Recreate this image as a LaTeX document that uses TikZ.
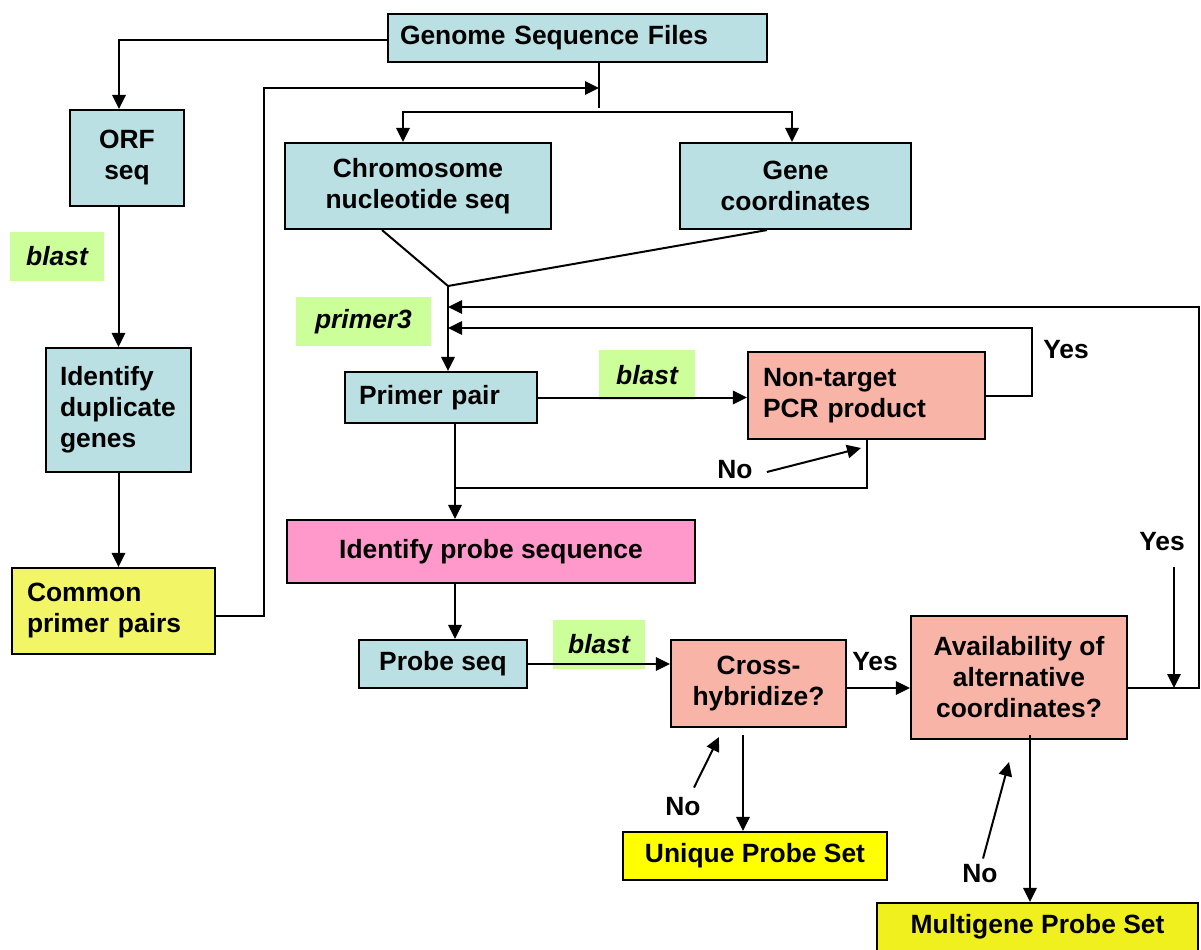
\documentclass[tikz,border=0pt]{standalone}
\usepackage{fontspec}
\setmainfont{Liberation Sans}
\usetikzlibrary{arrows.meta,calc}
\definecolor{cblue}{RGB}{186,224,227}
\definecolor{csalmon}{RGB}{248,180,166}
\definecolor{cpink}{RGB}{255,153,204}
\definecolor{cyel}{RGB}{242,245,102}
\definecolor{cyel2}{RGB}{255,255,0}
\definecolor{cyel3}{RGB}{240,240,30}
\definecolor{cgreen}{RGB}{204,255,153}
\begin{document}
\begin{tikzpicture}[x=0.75pt,y=-0.75pt,
  font=\fontsize{19.8pt}{23.25pt}\selectfont\bfseries,
  box/.style={draw=black,line width=1.6pt,inner sep=0pt,align=center},
  sz/.style 2 args={minimum width=#1*0.75pt,minimum height=#2*0.75pt},
  lbl/.style={fill=cgreen,inner sep=0pt,font=\fontsize{19.8pt}{23.25pt}\selectfont\bfseries\itshape},
  txt/.style={inner sep=0pt},
  arr/.style={line width=1.5pt,-{Triangle[length=10.5pt,width=10pt]}},
  ln/.style={line width=1.5pt}]
\useasboundingbox (0,0) rectangle (1201,949);
\clip (0,0) rectangle (1201,949);
% green labels
\node[lbl,sz={94}{49}] (blA) at (57,256.5) {blast};
\node[lbl,sz={135}{49}] (pr3) at (363.5,321.5) {primer3};
\node[lbl,sz={96}{50}] (blB) at (647,375) {blast};
\node[lbl,sz={92}{49}] (blC) at (599,644.5) {blast};
% boxes
\node[box,fill=cblue,sz={379}{48},align=left,text width=266.25pt,inner xsep=9pt] (genome) at (577.5,38) {Genome Sequence Files};
\node[box,fill=cblue,sz={114}{96}] (orf) at (127,158) {ORF\\seq};
\node[box,fill=cblue,sz={145}{124},align=left,text width=87.75pt,inner xsep=10.5pt] (dup) at (118.5,410) {Identify\\duplicate\\genes};
\node[box,fill=cyel,sz={203}{86},align=left,text width=129.75pt,inner xsep=11.25pt] (common) at (113.5,611) {Common\\primer pairs};
\node[box,fill=cblue,sz={266}{86}] (chrom) at (418,186) {Chromosome\\nucleotide seq};
\node[box,fill=cblue,sz={231}{86}] (genec) at (795.5,186) {Gene\\coordinates};
\node[box,fill=cblue,sz={192}{51},align=left,text width=123pt,inner xsep=10.5pt] (primer) at (441,397.5) {Primer pair};
\node[box,fill=csalmon,sz={237}{87},align=left,text width=155.25pt,inner xsep=11.25pt] (nontarget) at (866.5,395.5) {Non-target\\PCR product};
\node[box,fill=cpink,sz={408}{63}] (probeid) at (491,551.5) {Identify probe sequence};
\node[box,fill=cblue,sz={168}{48}] (probeseq) at (443,664) {Probe seq};
\node[box,fill=csalmon,sz={175}{87}] (cross) at (758.5,683.5) {Cross-\\hybridize?};
\node[box,fill=csalmon,sz={216}{123}] (avail) at (1019,677.5) {Availability of\\alternative\\coordinates?};
\node[box,fill=cyel2,sz={264}{48}] (unique) at (755,856) {Unique Probe Set};
\node[box,fill=cyel3,sz={321}{48}] (multi) at (1037.5,927) {Multigene Probe Set};
% text labels
\node[txt] (yes1) at (1066,350) {Yes};
\node[txt] (yes2) at (1162,542) {Yes};
\node[txt] (yes3) at (875,662) {Yes};
\node[txt] (no1) at (735,470) {No};
\node[txt] (no2) at (683,807) {No};
\node[txt] (no3) at (980,874) {No};
% coordinates
\coordinate (gs) at (599,88);
\coordinate (gsb) at (599,108);
\coordinate (br) at (599,112);
\coordinate (mg) at (448,286);
\coordinate (in1) at (448,328);
\coordinate (in2) at (448,307);
\coordinate (pj) at (455,488);
\coordinate (no1t) at (861,448);
\coordinate (ys) at (1174,567);
\coordinate (no2t) at (719,737);
\coordinate (cd) at (743,735);
\coordinate (no3t) at (1009,762);
\coordinate (ad) at (1030,735);
\coordinate (cy) at ([yshift=-3.4pt]cross.east);
\coordinate (ay) at ([yshift=-7.9pt]avail.east);
% connectors
\draw[arr] ([yshift=-1.5pt]genome.west) -| ($(orf.north)+(-8,0)$);
\draw[arr] (orf.south -| dup.north) -- (dup.north);
\draw[arr] (dup.south) -- (dup.south |- common.north);
\draw[arr] ([yshift=-3.5pt]common.east) -- ++(48,0) |- (gs);
\draw[ln] (gs |- genome.south) -- (gsb);
\draw[arr] (br) -| ($(chrom.north)+(-15,0)$);
\draw[arr] (br) -| ($(genec.north)+(-3.5,0)$);
\draw[ln] ($(chrom.south)+(-36,0)$) -- (mg) -- ($(genec.south)+(-28.5,0)$);
\draw[arr] (mg) -- (mg |- primer.north);
\draw[arr] (primer.east) -- (primer.east -| nontarget.west);
\draw[arr] (nontarget.east) -- ++(46,0) |- (in1);
\draw[ln] (pj |- primer.south) -- (pj);
\draw[arr] (pj) -- (pj |- probeid.north);
\draw[ln] (pj) -| (nontarget.south);
\draw[arr] ($(no1.east)+(14,2)$) -- (no1t);
\draw[arr] (pj |- probeid.south) -- (pj |- probeseq.north);
\draw[arr] (probeseq.east) -- (probeseq.east -| cross.west);
\draw[arr] (cy) -- (cy -| avail.west);
\draw[arr] (ay) -- ++(71,0) |- (in2);
\draw[arr] (ys) -- (ys |- ay);
\draw[arr] ($(no2.north)+(11,-10)$) -- (no2t);
\draw[arr] (cd) -- (cd |- unique.north);
\draw[arr] ($(no3.north)+(3,-6)$) -- (no3t);
\draw[arr] (ad) -- (ad |- multi.north);
\end{tikzpicture}
\end{document}
